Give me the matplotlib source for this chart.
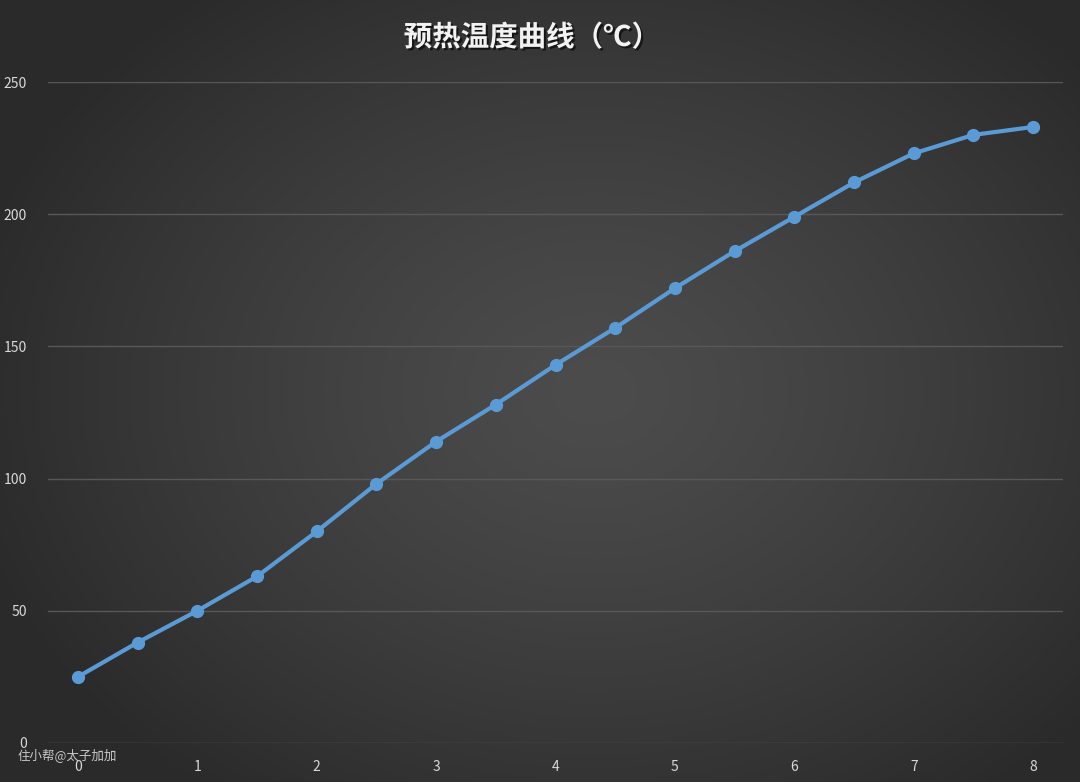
import numpy as np
import matplotlib
matplotlib.use("Agg")
import matplotlib.pyplot as plt
import matplotlib.patheffects as pe

plt.rcParams['font.family'] = ['Noto Sans CJK SC', 'DejaVu Sans']

x_vals = [0, 0.5, 1, 1.5, 2, 2.5, 3, 3.5, 4, 4.5, 5, 5.5, 6, 6.5, 7, 7.5, 8]
temps = [25, 38, 50, 63, 80, 98, 114, 128, 143, 157, 172, 186, 199, 212, 223, 230, 233]
x_ticks = [0, 1, 2, 3, 4, 5, 6, 7, 8]
y_ticks = [0, 50, 100, 150, 200, 250]
title = "预热温度曲线（℃）"
watermark = "住小帮@太子加加"

W, H = 1080, 782
fig = plt.figure(figsize=(W / 100, H / 100), dpi=100)

# radial gradient background
bg = fig.add_axes([0, 0, 1, 1])
yy, xx = np.mgrid[0:H, 0:W]
cx, cy = W * 0.55, H * 0.5
r = np.sqrt(((xx - cx) / (W * 0.6)) ** 2 + ((yy - cy) / (H * 0.65)) ** 2)
r = np.clip(r, 0, 1)
inner, outer = 0x4c, 0x2a
val = (inner + (outer - inner) * r ** 1.3) / 255.0
img = np.dstack([val, val, val])
bg.imshow(img, extent=[0, 1, 0, 1], aspect='auto', origin='upper')
bg.set_axis_off()

ax = fig.add_axes([48 / W, 1 - 743 / H, (1063 - 48) / W, (743 - 82) / H])
ax.patch.set_alpha(0)
ax.plot(x_vals, temps, color='#5b9bd5', lw=3.0, marker='o', markersize=8.5,
        markerfacecolor='#5b9bd5', markeredgecolor='#5b9bd5', zorder=3,
        solid_capstyle='round')
ax.set_xlim(-0.25, 8.25)
ax.set_ylim(0, 250)
ax.set_xticks(x_ticks)
ax.set_yticks(y_ticks)
ax.grid(axis='y', color='#585858', lw=1.0)
ax.grid(axis='x', visible=False)
for s in ax.spines.values():
    s.set_visible(False)
ax.tick_params(axis='both', length=0, colors='#d9d9d9', labelsize=10)
ax.tick_params(axis='y', pad=15)
ax.tick_params(axis='x', pad=12)

fig.text(532 / W, 1 - 38 / H, title, ha='center', va='center', color='#f2f2f2',
         fontsize=20.5, fontweight='bold',
         path_effects=[pe.withSimplePatchShadow(offset=(1.5, -1.5), shadow_rgbFace='black', alpha=0.6)])
fig.text(18 / W, 1 - 755 / H, watermark, ha='left', va='center', color='#c8c8c8', fontsize=9)

fig.savefig('out.png', dpi=100)
